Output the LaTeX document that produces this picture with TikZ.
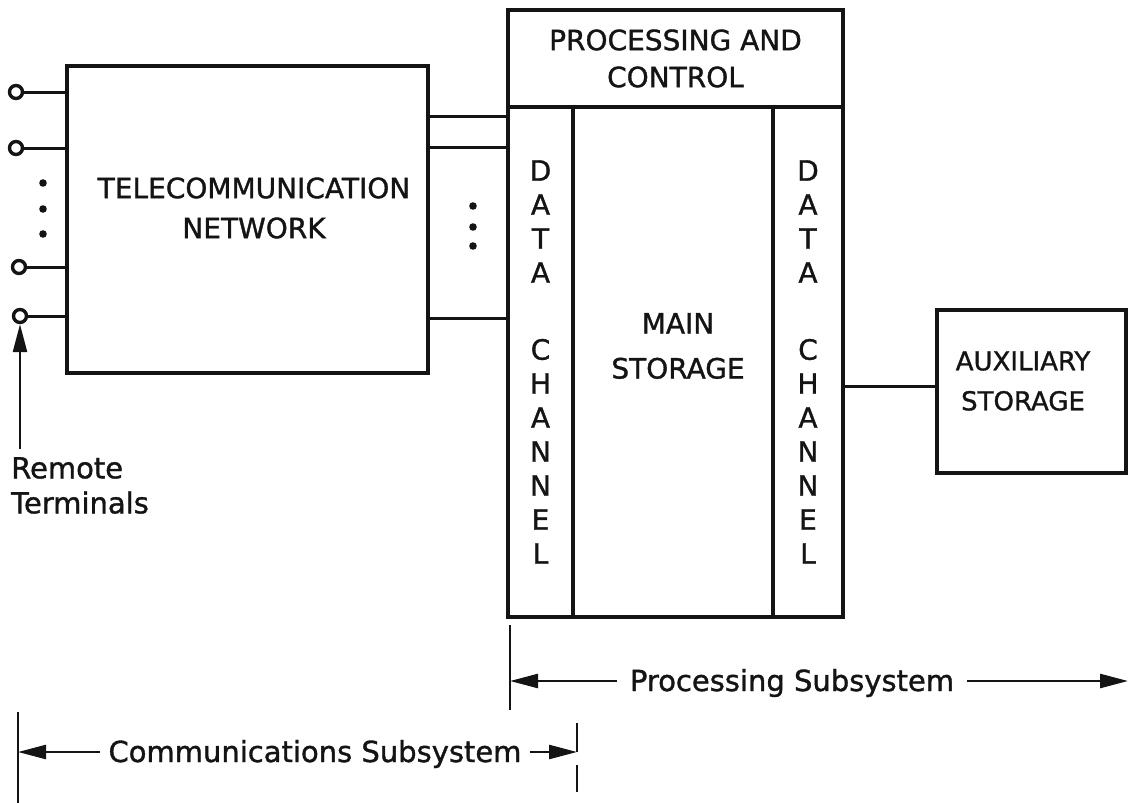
\documentclass[tikz,border=0pt]{standalone}
\usepackage{fontspec}
\setmainfont{DejaVu Sans}[FakeBold=1.2]
\usetikzlibrary{arrows.meta}

\definecolor{ink}{HTML}{141414}

\tikzstyle{unit-box}=[draw=ink, line width=4.5pt, inner sep=0pt]
\tikzstyle{caps-text}=[text=ink, align=center, inner sep=0pt, font=\fontsize{28}{40}\selectfont]
\tikzstyle{letter-stack}=[caps-text, font=\fontsize{28}{34}\selectfont]
\tikzstyle{small-text}=[text=ink, inner sep=0pt, font=\fontsize{29}{35}\selectfont]
\tikzstyle{wire}=[draw=ink, line width=3pt]
\tikzstyle{terminal}=[circle, draw=ink, line width=3.4pt, fill=white, minimum size=13pt, inner sep=0pt]
\tikzstyle{dim-line}=[draw=ink, line width=2.5pt, -{Triangle[length=28pt,width=14pt]}]
\tikzstyle{dim-tick}=[draw=ink, line width=2.5pt]

\begin{document}
\begin{tikzpicture}[x=1pt, y=-1pt]
  \useasboundingbox (0,0) rectangle (1128,803);

  % network block with its terminals
  \node (net) at (247.5, 219.5) [unit-box, minimum width=361pt, minimum height=307pt] {};
  \node (net-text) at (254, 208) [caps-text] {TELECOMMUNICATION\\NETWORK};

  \node (term1) at (16, 92) [terminal] {};
  \node (term2) at (16, 148) [terminal] {};
  \node (term3) at (19, 267) [terminal] {};
  \node (term4) at (20, 316) [terminal] {};
  \foreach \t in {term1, term2, term3, term4}
    \draw [wire] (\t) -- (\t -| net.west);
  \foreach \y in {183, 209, 234}
    \fill [ink] (43, \y) circle (3.8pt);

  \node (remote) at (11, 457) [small-text, anchor=north west, align=left] {Remote\\Terminals};
  \coordinate (remote-tail) at (20, 449);
  \draw [dim-line] (remote-tail) -- (term4.south);

  % processing unit
  \node (ctrl) at (675.5, 58.5) [unit-box, minimum width=335pt, minimum height=97pt, caps-text]
        {PROCESSING AND\\[-3pt]CONTROL};
  \node (chan-in) at (540.5, 362) [unit-box, minimum width=65pt, minimum height=510pt, letter-stack]
        {D\\A\\T\\A\\[43pt]C\\H\\A\\N\\N\\E\\L};
  \node (core) at (673, 362) [unit-box, minimum width=200pt, minimum height=510pt] {};
  \node (core-text) at (678, 346) [caps-text] {MAIN\\[5pt]STORAGE};
  \node (chan-out) at (808, 362) [unit-box, minimum width=70pt, minimum height=510pt, letter-stack]
        {D\\A\\T\\A\\[43pt]C\\H\\A\\N\\N\\E\\L};

  \foreach \y [count=\i] in {116, 147, 318} {
    \coordinate (link\i) at (0, \y);
    \draw [wire] (net.east |- link\i) -- (chan-in.west |- link\i);
  }
  \foreach \y in {206, 227, 246}
    \fill [ink] (473, \y) circle (3.8pt);

  % backing store
  \node (aux) at (1031.5, 391.5) [unit-box, minimum width=189pt, minimum height=163pt] {};
  \node (aux-text) at (1023, 381) [caps-text, font=\fontsize{26}{40}\selectfont] {AUXILIARY\\STORAGE};
  \coordinate (aux-link) at (0, 386);
  \draw [wire] (chan-out.east |- aux-link) -- (aux.west |- aux-link);

  % extent of the two subsystems
  \coordinate (proc-left) at (510, 681);
  \coordinate (proc-right) at (1128, 681);
  \draw [dim-tick] (510, 625) -- (510, 710);
  \node (proc-text) at (792, 691) [small-text, anchor=base, inner xsep=13pt] {Processing Subsystem};
  \draw [dim-line] (proc-text.west |- proc-left) -- (proc-left);
  \draw [dim-line] (proc-text.east |- proc-right) -- (proc-right);

  \coordinate (comm-left) at (18, 752);
  \coordinate (comm-right) at (577, 752);
  \draw [dim-tick] (18, 712) -- (18, 803);
  \draw [dim-tick] (577, 723) -- (comm-right);
  \draw [dim-tick] (577, 765) -- (577, 792);
  \node (comm-text) at (315, 762) [small-text, anchor=base, inner xsep=8pt] {Communications Subsystem};
  \draw [dim-line] (comm-text.west |- comm-left) -- (comm-left);
  \draw [dim-line] (comm-text.east |- comm-right) -- (comm-right);
\end{tikzpicture}
\end{document}
